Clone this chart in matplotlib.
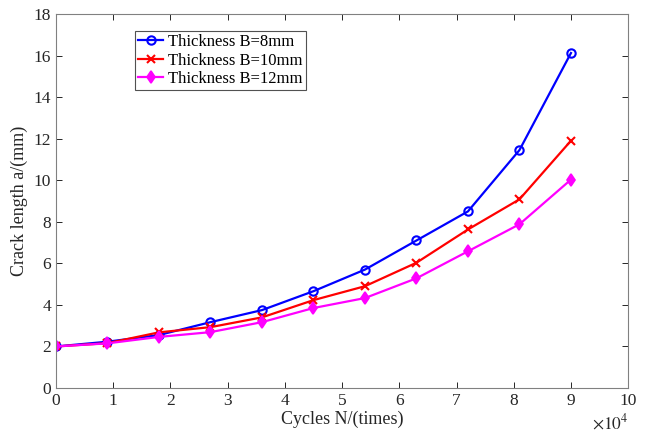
import matplotlib
matplotlib.use("Agg")
import matplotlib.pyplot as plt

cycles = [0, 0.9, 1.8, 2.7, 3.6, 4.5, 5.4, 6.3, 7.2, 8.1, 9.0]
b8 = [2.0, 2.23, 2.55, 3.17, 3.75, 4.66, 5.7, 7.1, 8.5, 11.45, 16.12]
b10 = [2.0, 2.16, 2.68, 2.93, 3.4, 4.23, 4.9, 6.03, 7.63, 9.08, 11.9]
b12 = [2.0, 2.15, 2.46, 2.69, 3.17, 3.85, 4.33, 5.28, 6.58, 7.88, 10.03]
labels = ["Thickness B=8mm", "Thickness B=10mm", "Thickness B=12mm"]
xticks = list(range(0, 11))
yticks = list(range(0, 19, 2))

plt.rcParams['font.family'] = ['Liberation Serif', 'DejaVu Serif']
plt.rcParams['mathtext.fontset'] = 'stix'
fig = plt.figure(figsize=(6.48, 4.36), dpi=100)
ax = fig.add_axes([0.0864, 0.110, 0.883, 0.858])
gc = '#262626'
ax.plot(cycles, b8, color='blue', marker='o', ms=6, mfc='none', mew=1.5, lw=1.6, label=labels[0])
ax.plot(cycles, b10, color='red', marker='x', ms=6, mew=1.5, lw=1.6, label=labels[1])
ax.plot(cycles, b12, color='magenta', marker='d', ms=6.5, mfc='magenta', mew=1.2, lw=1.6, label=labels[2])
ax.set_xlim(0, 10)
ax.set_ylim(0, 18)
ax.set_xticks(xticks)
ax.set_yticks(yticks)
ax.tick_params(direction='in', top=True, right=True, labelsize=12.5, colors=gc, length=4, width=0.7)
for s in ax.spines.values():
    s.set_color('#808080')
    s.set_linewidth(0.8)
ax.set_xlabel('Cycles N/(times)', fontsize=13, color=gc, labelpad=1)
ax.set_ylabel('Crack length a/(mm)', fontsize=13, color=gc, labelpad=4)
ax.text(1.0, -0.068, r'$\times10^{4}$', transform=ax.transAxes, ha='right', va='top', fontsize=12.5, color=gc)
leg = ax.legend(loc='upper left', bbox_to_anchor=(0.138, 0.955), fontsize=12, frameon=True, fancybox=False,
                edgecolor=gc, handlelength=1.5, handletextpad=0.3, borderpad=0.2, labelspacing=0.15, borderaxespad=0)
leg.get_frame().set_linewidth(0.8)
fig.savefig('out.png', dpi=100)
